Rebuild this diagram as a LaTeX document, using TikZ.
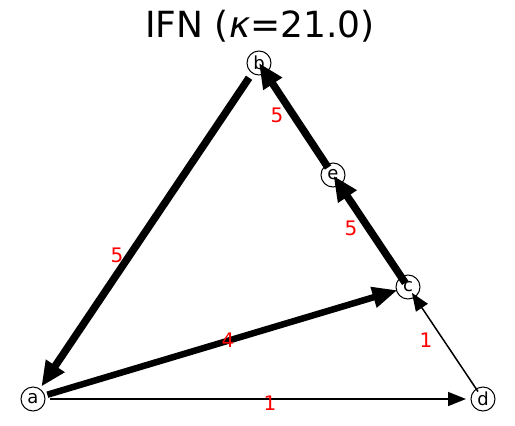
\documentclass[tikz,border=0pt]{standalone}
\usepackage{fontspec}
\setmainfont{DejaVu Sans}
\usetikzlibrary{arrows.meta,calc}
\begin{document}
\begin{tikzpicture}[x=1pt,y=-1pt,
  vtx/.style={circle,draw=black,fill=white,line width=1pt,minimum size=24pt,inner sep=0pt,font=\fontsize{18}{18}\selectfont},
  wlab/.style={text=red,font=\fontsize{20}{20}\selectfont,inner sep=0pt},
  heavy/.style={line width=7.5pt,-{Triangle[length=25pt,width=21pt]}},
  medium/.style={line width=6.5pt,-{Triangle[length=25pt,width=20pt]}},
  light/.style={line width=1.5pt,-{Triangle[length=18pt,width=14pt]}}]
\useasboundingbox (0,0) rectangle (515,426);
\node (title) at (260,26) {\fontsize{36}{36}\selectfont IFN (\textit{κ}=21.0)};
\node[vtx] (a) at (33,399) {a};
\node[vtx] (b) at (259,63) {b};
\node[vtx] (c) at (408,287) {c};
\node[vtx] (d) at (483,399) {d};
\node[vtx] (e) at (333,175) {e};
\draw[heavy] ($(b.center)!17.8pt!(a.center)$) -- ($(a.center)!15pt!(b.center)$);
\draw[medium] ($(a.center)!15pt!(c.center)$) -- ($(c.center)!11pt!(a.center)$);
\draw[heavy] ($(c.center)!5pt!(e.center)$) -- ($(e.center)!1pt!(c.center)$);
\draw[heavy] ($(e.center)!9pt!(b.center)$) -- ($(b.center)!0pt!(e.center)$);
\draw[light] ($(d.center)!9pt!(c.center)$) -- ($(c.center)!7pt!(d.center)$);
\draw[light] ($(a.center)!17pt!(d.center)$) -- ($(d.center)!17pt!(a.center)$);
\node[wlab] (l1) at (117,255) {5};
\node[wlab] (l2) at (277,115) {5};
\node[wlab] (l3) at (351,228) {5};
\node[wlab] (l4) at (228,340) {4};
\node[wlab] (l5) at (426,340) {1};
\node[wlab] (l6) at (270,403) {1};
\end{tikzpicture}
\end{document}
